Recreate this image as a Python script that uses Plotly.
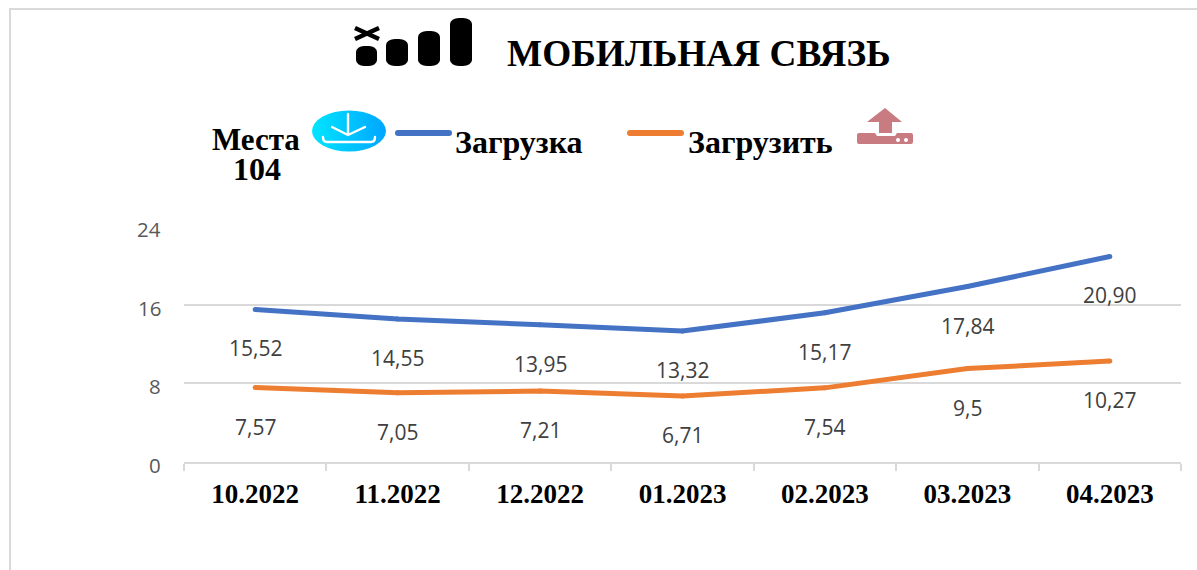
import base64
import plotly.graph_objects as go

W, H = 1197, 570
L, R, T, B = 184, 1181, 226, 462

categories = ["10.2022", "11.2022", "12.2022", "01.2023", "02.2023", "03.2023", "04.2023"]
download = [15.52, 14.55, 13.95, 13.32, 15.17, 17.84, 20.90]
upload = [7.57, 7.05, 7.21, 6.71, 7.54, 9.5, 10.27]
download_labels = ["15,52", "14,55", "13,95", "13,32", "15,17", "17,84", "20,90"]
upload_labels = ["7,57", "7,05", "7,21", "6,71", "7,54", "9,5", "10,27"]
y_ticks = [0, 8, 16, 24]
BLUE, ORANGE = "#4472C4", "#ED7D31"
SANS = "Open Sans, Noto Sans, sans-serif"
SERIF = "Liberation Serif, serif"


def px(x):
    return (x - L) / (R - L)


def py(y):
    return (B - y) / (B - T)


def uri(svg):
    return "data:image/svg+xml;base64," + base64.b64encode(svg.encode()).decode()


def image(svg, x0, y0, x1, y1):
    return dict(source=uri(svg), xref="paper", yref="paper", x=px(x0), y=py(y0),
                sizex=(x1 - x0) / (R - L), sizey=(y1 - y0) / (B - T),
                xanchor="left", yanchor="top", sizing="stretch", layer="above")


def swatch(color):
    return ("<svg xmlns='http://www.w3.org/2000/svg' viewBox='0 0 57 6'>"
            f"<rect width='57' height='6' rx='3' fill='{color}'/></svg>")


signal_svg = """<svg xmlns='http://www.w3.org/2000/svg' viewBox='0 0 120 48'>
<path d='M1 10 L25 21 M1 21 L25 10' stroke='#000' stroke-width='4.5' fill='none'/>
<rect x='2' y='28' width='21' height='20' rx='8' ry='6' fill='#000'/>
<rect x='32' y='21' width='22' height='27' rx='9' ry='6' fill='#000'/>
<rect x='64' y='13' width='22' height='35' rx='9' ry='6' fill='#000'/>
<rect x='96' y='0' width='22' height='48' rx='9' ry='6' fill='#000'/>
</svg>"""

download_svg = """<svg xmlns='http://www.w3.org/2000/svg' viewBox='0 0 74 42'>
<defs><linearGradient id='g' x1='0' x2='1' y1='0' y2='0'>
<stop offset='0' stop-color='#00E5FF'/><stop offset='1' stop-color='#00A6FF'/></linearGradient></defs>
<ellipse cx='37' cy='21' rx='37' ry='20.5' fill='url(#g)'/>
<path d='M36 4 V23 M20 17 L36 25 L53 17 M11 27 Q11 32 15 32 H59 Q63 32 63 27'
 fill='none' stroke='#fff' stroke-width='2.4' stroke-linecap='round'/>
</svg>"""

upload_svg = """<svg xmlns='http://www.w3.org/2000/svg' viewBox='0 0 56 36'>
<path d='M28 0 L45 14 H35 V25 H22 V14 H10 Z' fill='#C87B80'/>
<path d='M2 25 H18 L20 28 H38 L40 25 H54 Q56 25 56 27 V34 Q56 36 54 36 H2 Q0 36 0 34 V27 Q0 25 2 25 Z' fill='#C87B80'/>
<circle cx='41' cy='32' r='2' fill='#fff'/><circle cx='49' cy='32' r='2' fill='#fff'/>
</svg>"""

fig = go.Figure()
fig.add_trace(go.Scatter(x=categories, y=download, mode="lines+markers", name="Загрузка",
                         line=dict(color=BLUE, width=5), marker=dict(color=BLUE, size=5)))
fig.add_trace(go.Scatter(x=categories, y=upload, mode="lines+markers", name="Загрузить",
                         line=dict(color=ORANGE, width=5), marker=dict(color=ORANGE, size=5)))

annotations = []
for series, labels in ((download, download_labels), (upload, upload_labels)):
    for i, (v, t) in enumerate(zip(series, labels)):
        annotations.append(dict(x=i, y=v, xref="x", yref="y", text=t, showarrow=False, yshift=-39,
                                font=dict(family=SANS, size=21, color="#404040")))

for v in y_ticks:
    annotations.append(dict(xref="paper", yref="y", x=px(163), y=v, text=str(v), showarrow=False,
                            xanchor="right", yanchor="middle", yshift=-3,
                            font=dict(family=SANS, size=20.5, color="#595959")))


def label(text, x, y, size):
    annotations.append(dict(xref="paper", yref="paper", x=px(x), y=py(y), text=f"<b>{text}</b>",
                            showarrow=False, xanchor="center", yanchor="middle",
                            font=dict(family=SERIF, size=size, color="#000000")))


label("МОБИЛЬНАЯ СВЯЗЬ", 699, 53, 37.3)
label("Места", 256, 139, 31)
label("104", 257, 169, 32)
label("Загрузка", 519, 142, 32)
label("Загрузить", 760, 142, 32)

shapes = [
    dict(type="line", xref="paper", yref="paper", x0=px(10), x1=px(10), y0=py(9), y1=py(570),
         line=dict(color="#D9D9D9", width=2)),
    dict(type="line", xref="paper", yref="paper", x0=px(9), x1=px(1197), y0=py(9), y1=py(9),
         line=dict(color="#D9D9D9", width=2)),
]

fig.update_layout(
    width=W, height=H, autosize=False,
    margin=dict(l=L, r=W - R, t=T, b=H - B, pad=0),
    paper_bgcolor="#FFFFFF", plot_bgcolor="#FFFFFF",
    showlegend=False,
    annotations=annotations,
    shapes=shapes,
    images=[image(signal_svg, 354, 18, 474, 66),
            image(download_svg, 312, 110, 386, 152),
            image(upload_svg, 857, 108, 913, 144),
            image(swatch(BLUE), 395, 130, 452, 136),
            image(swatch(ORANGE), 627, 130, 684, 136)],
    xaxis=dict(type="category", categoryorder="array", categoryarray=categories,
               showgrid=False, showline=True, linecolor="#D9D9D9", linewidth=2,
               ticks="outside", tickcolor="#D9D9D9", ticklen=7, tickwidth=2,
               tickson="boundaries", range=[-0.5, 6.5], zeroline=False,
               tickfont=dict(family=SERIF, size=27, color="#000000"),
               tickprefix="<b>", ticksuffix="</b>", ticklabelstandoff=7),
    yaxis=dict(range=[0, 24], tickvals=y_ticks, showgrid=True, gridcolor="#D9D9D9", gridwidth=2,
               zeroline=False, showline=False, ticks="", showticklabels=False),
)

fig.write_html("out.html", config=dict(displayModeBar=False),
               post_script="document.body.style.margin='0';")
